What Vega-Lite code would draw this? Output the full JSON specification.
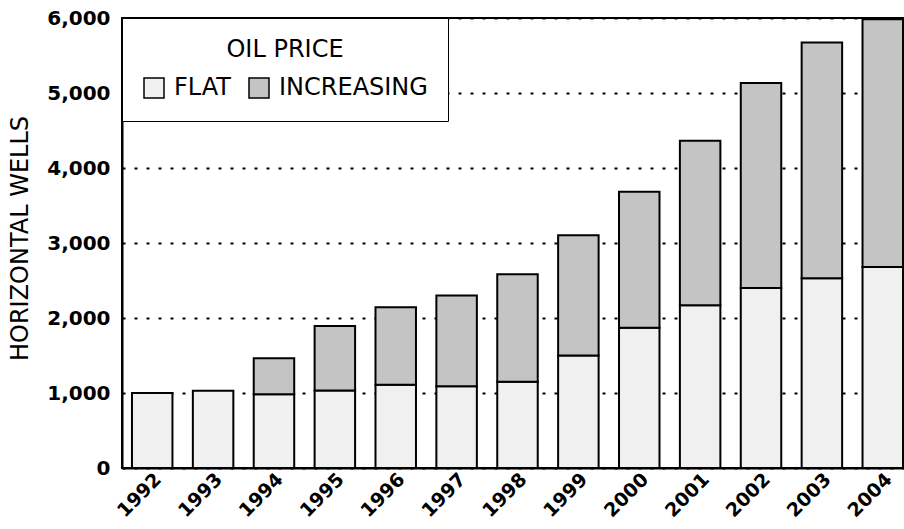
{
  "$schema": "https://vega.github.io/schema/vega-lite/v6.json",
  "autosize": {"type": "none"},
  "padding": {"left": 122, "top": 18, "right": 0, "bottom": 61},
  "width": 782,
  "height": 450,
  "background": "white",
  "config": {
    "view": {"stroke": "black", "strokeWidth": 2},
    "font": "DejaVu Sans"
  },
  "data": {
    "values": [
      {"year": "1992", "price": "FLAT", "wells": 1000},
      {"year": "1993", "price": "FLAT", "wells": 1030},
      {"year": "1994", "price": "FLAT", "wells": 985},
      {"year": "1994", "price": "INCREASING", "wells": 480},
      {"year": "1995", "price": "FLAT", "wells": 1035},
      {"year": "1995", "price": "INCREASING", "wells": 860},
      {"year": "1996", "price": "FLAT", "wells": 1110},
      {"year": "1996", "price": "INCREASING", "wells": 1035},
      {"year": "1997", "price": "FLAT", "wells": 1090},
      {"year": "1997", "price": "INCREASING", "wells": 1210},
      {"year": "1998", "price": "FLAT", "wells": 1150},
      {"year": "1998", "price": "INCREASING", "wells": 1435},
      {"year": "1999", "price": "FLAT", "wells": 1500},
      {"year": "1999", "price": "INCREASING", "wells": 1605},
      {"year": "2000", "price": "FLAT", "wells": 1870},
      {"year": "2000", "price": "INCREASING", "wells": 1815},
      {"year": "2001", "price": "FLAT", "wells": 2170},
      {"year": "2001", "price": "INCREASING", "wells": 2195},
      {"year": "2002", "price": "FLAT", "wells": 2400},
      {"year": "2002", "price": "INCREASING", "wells": 2735},
      {"year": "2003", "price": "FLAT", "wells": 2530},
      {"year": "2003", "price": "INCREASING", "wells": 3145},
      {"year": "2004", "price": "FLAT", "wells": 2680},
      {"year": "2004", "price": "INCREASING", "wells": 3305}
    ]
  },
  "mark": {"type": "bar", "stroke": "black", "strokeWidth": 2, "opacity": 1},
  "encoding": {
    "x": {
      "field": "year",
      "type": "ordinal",
      "scale": {"paddingInner": 0.335, "paddingOuter": 0.09, "align": 0.91},
      "axis": {
        "title": null,
        "labelAngle": -45,
        "labelAlign": "right",
        "labelBaseline": "middle",
        "labelFont": "DejaVu Sans",
        "labelFontWeight": "bold",
        "labelFontSize": 19,
        "labelColor": "black",
        "labelPadding": 8,
        "labelOffset": 6,
        "ticks": false,
        "domain": true,
        "domainColor": "black",
        "domainWidth": 2,
        "grid": false
      }
    },
    "y": {
      "field": "wells",
      "type": "quantitative",
      "stack": "zero",
      "scale": {"domain": [0, 6000], "nice": false},
      "axis": {
        "title": "HORIZONTAL WELLS",
        "values": [0, 1000, 2000, 3000, 4000, 5000, 6000],
        "format": ",d",
        "labelFont": "DejaVu Sans",
        "labelFontWeight": "bold",
        "labelFontSize": 20,
        "labelColor": "black",
        "labelPadding": 12,
        "ticks": false,
        "domain": true,
        "domainColor": "black",
        "domainWidth": 2,
        "grid": true,
        "gridColor": "black",
        "gridWidth": 2,
        "gridDash": [3, 9],
        "titleFont": "DejaVu Sans",
        "titleFontWeight": "normal",
        "titleFontSize": 24,
        "titleColor": "black",
        "titleAngle": -90,
        "titleBaseline": "middle",
        "titleX": -102,
        "titleY": 220
      }
    },
    "color": {
      "field": "price",
      "type": "nominal",
      "scale": {"domain": ["FLAT", "INCREASING"], "range": ["#f0f0f0", "#c4c4c4"]},
      "legend": {
        "title": "OIL PRICE",
        "orient": "none",
        "legendX": 0,
        "legendY": 0,
        "direction": "horizontal",
        "titleAnchor": "middle",
        "titleFont": "DejaVu Sans",
        "titleFontWeight": "normal",
        "titleFontSize": 24,
        "titleColor": "black",
        "titlePadding": 14,
        "labelFont": "DejaVu Sans",
        "labelFontSize": 24,
        "labelColor": "black",
        "labelOffset": 8,
        "columnPadding": 15,
        "symbolType": "square",
        "symbolSize": 400,
        "symbolStrokeColor": "black",
        "symbolStrokeWidth": 1.5,
        "symbolOpacity": 1,
        "padding": 20,
        "strokeColor": "black",
        "fillColor": "white"
      }
    },
    "order": {"field": "price", "sort": "ascending"}
  }
}
